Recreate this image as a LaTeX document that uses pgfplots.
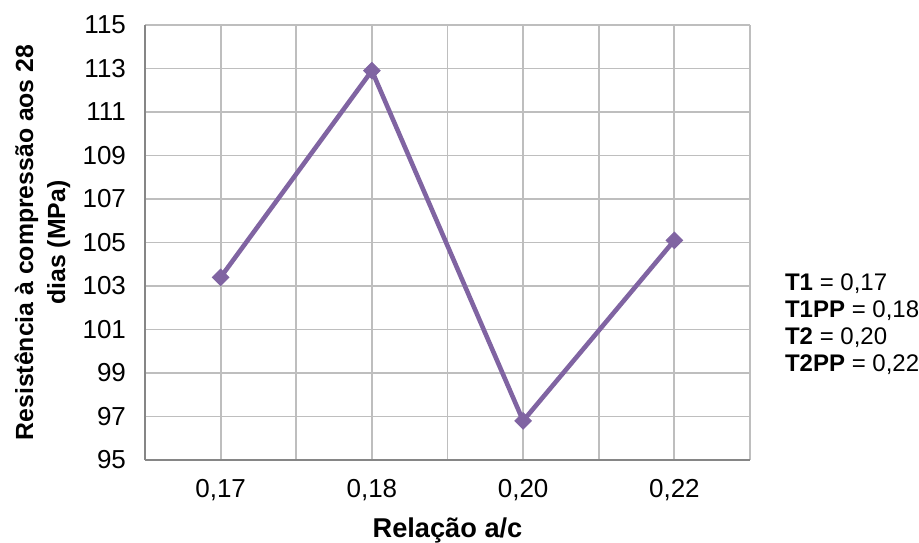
\documentclass[border=0pt]{standalone}
\usepackage{pgfplots}
\pgfplotsset{compat=1.18}
\usepackage{fontspec}
\setmainfont{Liberation Sans}
\definecolor{lineP}{HTML}{8064A2}
\definecolor{gridG}{HTML}{BEBEBE}
\definecolor{axisG}{HTML}{868686}
\begin{document}
\begin{tikzpicture}[x=1pt,y=1pt]
\useasboundingbox (0,0) rectangle (459.5,271);
\begin{axis}[
  at={(72.5pt,41pt)}, anchor=south west,
  scale only axis, width=302.5pt, height=217.5pt,
  xmin=-0.5, xmax=3.5, ymin=95, ymax=115,
  xtick={0,1,2,3},
  xticklabels={{0,17},{0,18},{0,20},{0,22}},
  minor xtick={-0.5,0.5,1.5,2.5,3.5},
  ytick={95,97,...,115},
  grid=both,
  major grid style={gridG, line width=0.9pt},
  minor grid style={gridG, line width=0.9pt},
  axis line style={axisG, line width=1pt},
  axis x line*=bottom, axis y line*=left,
  tick style={draw=none},
  /pgf/number format/assume math mode=true,
  ticklabel style={font=\fontsize{13}{14}\selectfont},
  yticklabel style={xshift=-6pt},
  xticklabel style={yshift=-6pt},
  xlabel={\fontsize{13.6}{15}\selectfont\bfseries Relação a/c},
  xlabel style={yshift=-2pt},
  ylabel={\fontsize{12.4}{16}\selectfont\bfseries\begin{tabular}{c}Resistência à compressão aos 28\\[0pt] dias (MPa)\end{tabular}},
  ylabel style={yshift=-3pt},
]
\addplot[lineP, line width=2.3pt, mark=square*, mark size=2.9pt,
  mark options={rotate=45, fill=lineP, draw=lineP, line width=0.5pt}]
  coordinates {(0,103.4) (1,112.9) (2,96.8) (3,105.1)};
\end{axis}
\node[anchor=west, align=left, font=\fontsize{12}{13.5}\selectfont] at (389,109)
 {\textbf{T1} = 0,17\\ \textbf{T1PP} = 0,18\\ \textbf{T2} = 0,20\\ \textbf{T2PP} = 0,22};
\end{tikzpicture}
\end{document}
